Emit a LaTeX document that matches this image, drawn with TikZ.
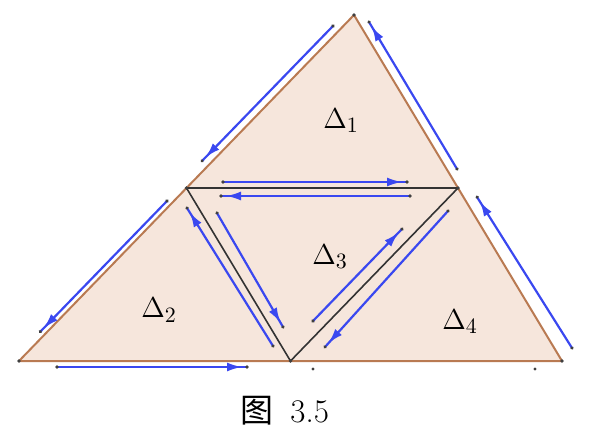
\documentclass[tikz,border=0pt]{standalone}
\usepackage{fontspec}
\newfontfamily\cjk{Noto Sans CJK SC}
\usetikzlibrary{arrows.meta,decorations.markings}

\definecolor{sheet}{HTML}{F6E6DC}
\definecolor{rim}{HTML}{B97A52}
\definecolor{flowblue}{HTML}{3A48F0}

\tikzset{
  flow/.style={flowblue, line width=1.1pt, postaction={decorate},
    decoration={markings,
      mark=at position 0 with {\fill[black!75] circle (0.9pt);},
      mark=at position -2.5pt with {\arrow{Latex[length=7.5pt,width=4.5pt]}},
      mark=at position 1 with {\fill[black!75] circle (0.9pt);}}},
  tri/.style={font=\fontsize{15.5}{18}\selectfont},
  pt/.style={fill=black!75},
}

\begin{document}
\begin{tikzpicture}[x=0.5pt,y=-0.5pt]

\useasboundingbox (0,0) rectangle (590,444);

% ========================
% CORNERS AND MIDPOINTS
% ========================

\coordinate (A) at (19,361);    % bottom left
\coordinate (B) at (562,361);   % bottom right
\coordinate (T) at (354,15);    % top
\coordinate (L) at (186.5,188); % mid of left side
\coordinate (R) at (458,188);   % mid of right side
\coordinate (M) at (290.5,361); % mid of base

% big triangle
\fill[sheet] (A) -- (B) -- (T) -- cycle;
\draw[rim, line width=1pt, line join=round] (A) -- (B) -- (T) -- cycle;

% inner triangle
\draw[black!80, line width=0.8pt, line join=round] (L) -- (R) -- (M) -- cycle;

\foreach \p in {A,B,T,L,R,M}
  \fill[pt] (\p) circle (0.9pt);

% ========================
% LABELS
% ========================

\node[tri] (d1) at (341,121) {$\Delta_1$};
\node[tri] (d2) at (159,310) {$\Delta_2$};
\node[tri] (d3) at (330,257) {$\Delta_3$};
\node[tri] (d4) at (460,322) {$\Delta_4$};

% ========================
% ARROWS ALONG THE SIDES
% ========================

% outer left side
\coordinate (a1s) at (333,26);  \coordinate (a1e) at (202,161);
\coordinate (a5s) at (167,201); \coordinate (a5e) at (40,332);
% outer right side
\coordinate (a2s) at (457,169); \coordinate (a2e) at (369,22);
\coordinate (a11s) at (572,348); \coordinate (a11e) at (477,197);
% base
\coordinate (a6s) at (57,367);  \coordinate (a6e) at (247,367);
% inner top side
\coordinate (a3s) at (223,182); \coordinate (a3e) at (407,182);
\coordinate (a4s) at (410,196); \coordinate (a4e) at (221,196);
% inner left side
\coordinate (a7s) at (273,346); \coordinate (a7e) at (187,208);
\coordinate (a8s) at (217,213); \coordinate (a8e) at (283,327);
% inner right side
\coordinate (a9s) at (313,321); \coordinate (a9e) at (402,229);
\coordinate (a10s) at (448,211); \coordinate (a10e) at (325,347);

\foreach \k in {1,...,11}
  \draw[flow] (a\k s) -- (a\k e);

% two loose points under the base
\coordinate (q1) at (313,369);
\coordinate (q2) at (535,369);
\fill[pt] (q1) circle (0.8pt);
\fill[pt] (q2) circle (0.8pt);

% caption
\node[font=\fontsize{16.5}{19}\selectfont] (cap) at (285,411) {{\cjk 图}\enspace 3.5};

\end{tikzpicture}
\end{document}
